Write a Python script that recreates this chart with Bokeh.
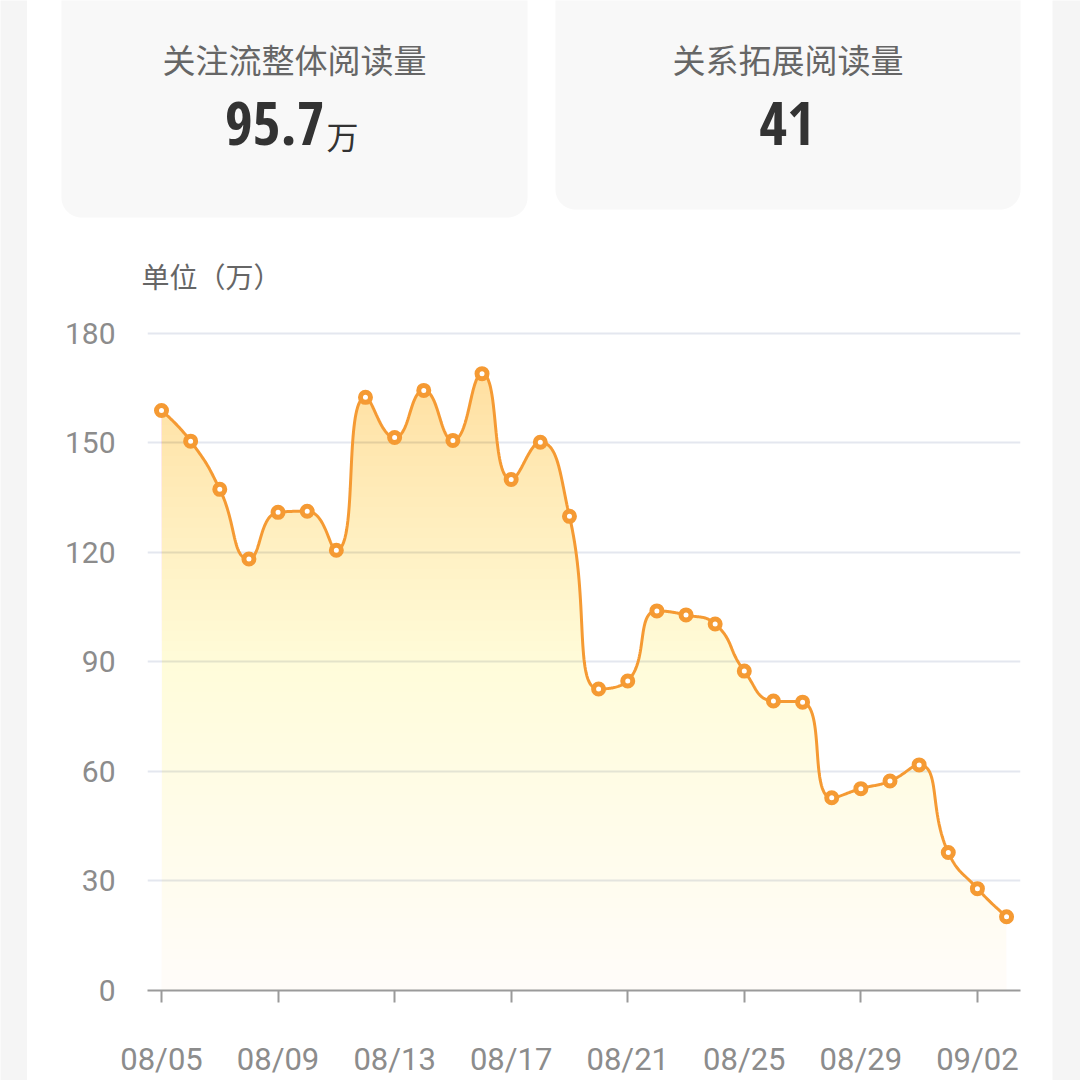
import numpy as np
from bokeh.plotting import figure
from bokeh.layouts import row, column
from bokeh.models import Range1d, FixedTicker
from bokeh.core.properties import value
from bokeh.embed import file_html
from bokeh.resources import INLINE

# ---------------- data ----------------
dates = ["08/05", "08/06", "08/07", "08/08", "08/09", "08/10", "08/11", "08/12",
         "08/13", "08/14", "08/15", "08/16", "08/17", "08/18", "08/19", "08/20",
         "08/21", "08/22", "08/23", "08/24", "08/25", "08/26", "08/27", "08/28",
         "08/29", "08/30", "08/31", "09/01", "09/02", "09/03"]
reads = [158.9, 150.5, 137.3, 118.2, 131.0, 131.3, 120.6, 162.5,
         151.5, 164.4, 150.7, 169.0, 140.0, 150.2, 129.9, 82.6,
         84.8, 104.0, 102.9, 100.4, 87.5, 79.3, 79.0, 52.8,
         55.3, 57.4, 61.8, 37.8, 27.9, 20.2]
y_ticks = [0, 30, 60, 90, 120, 150, 180]
x_tick_step = 4
card_titles = ["关注流整体阅读量", "关系拓展阅读量"]
card_values = ["95.7", "41"]
card_units = ["万", ""]
unit_label = "单位（万）"

# ---------------- style / layout constants (pixels) ----------------
GREY_BG = "#f5f5f5"
CARD_BG = "#f8f8f8"
ORANGE = "#f59a33"
FILL_C = "#f59438"
TITLE_C = "#666666"
NUM_C = "#333333"
AXIS_TXT = "#8c8c8c"
GRID_C = "#e4e7ef"
AXIS_C = "#9a9a9a"

MAIN_L, MAIN_R = 27, 1052
H_TOP = 300
H_TOTAL = 1080
W_MAIN = MAIN_R - MAIN_L
H_CHART = H_TOTAL - H_TOP
FRAME_L, FRAME_R, FRAME_T, FRAME_B = 147, 1020, 318, 991
X0_PX = 161
PX_DAY = 29.14
PX_UNIT = 658 / 180.0

# ---------------- smoothing (echarts-like) ----------------
def smooth_path(xs, ys, sx, sy, smooth=0.5, n=40):
    P = np.column_stack([np.asarray(xs, float) * sx, np.asarray(ys, float) * sy])
    m = len(P)
    segs = []
    cp0 = P[0].copy()
    t = np.linspace(0, 1, n)[:, None]
    for i in range(1, m):
        x, y = P[i]
        px, py = P[i - 1]
        if i == m - 1:
            cp1 = P[i].copy()
            ncp0 = None
        else:
            nx, ny = P[i + 1]
            vx, vy = nx - px, ny - py
            lp = np.hypot(x - px, y - py)
            ln = np.hypot(nx - x, ny - y)
            r = ln / (ln + lp)
            ncx = x + vx * smooth * r
            ncy = y + vy * smooth * r
            ncx = min(ncx, max(nx, x)); ncy = min(ncy, max(ny, y))
            ncx = max(ncx, min(nx, x)); ncy = max(ncy, min(ny, y))
            vx, vy = ncx - x, ncy - y
            c1x = x - vx * lp / ln
            c1y = y - vy * lp / ln
            c1x = min(c1x, max(px, x)); c1y = min(c1y, max(py, y))
            c1x = max(c1x, min(px, x)); c1y = max(c1y, min(py, y))
            vx, vy = x - c1x, y - c1y
            ncx = x + vx * ln / lp
            ncy = y + vy * ln / lp
            cp1 = np.array([c1x, c1y])
            ncp0 = np.array([ncx, ncy])
        B = ((1 - t) ** 3) * P[i - 1] + 3 * ((1 - t) ** 2) * t * cp0 \
            + 3 * (1 - t) * (t ** 2) * cp1 + (t ** 3) * P[i]
        segs.append(B if i == 1 else B[1:])
        cp0 = ncp0
    out = np.vstack(segs)
    return out[:, 0] / sx, out[:, 1] / sy


def rounded_rect(x0, x1, y0, y1, r, n=16):
    xs, ys = [], []
    for (cx, cy, a0) in [(x1 - r, y1 - r, 0), (x0 + r, y1 - r, 90),
                         (x0 + r, y0 + r, 180), (x1 - r, y0 + r, 270)]:
        a = np.radians(np.linspace(a0, a0 + 90, n))
        xs.extend(cx + r * np.cos(a))
        ys.extend(cy + r * np.sin(a))
    return xs, ys


# ---------------- top figure (cards), page pixel coordinates ----------------
top = figure(width=W_MAIN, height=H_TOP, x_range=Range1d(MAIN_L, MAIN_R),
             y_range=Range1d(H_TOP, 0), output_backend="svg", toolbar_location=None,
             x_axis_type=None, y_axis_type=None, min_border=0, outline_line_color=None,
             background_fill_color="white", border_fill_color="white", frame_align=False)
top.xgrid.visible = False
top.ygrid.visible = False

cards = [(61, 527, -40, 217), (555, 1020, -40, 209)]
for (cx0, cx1, cy0, cy1) in cards:
    rx, ry = rounded_rect(cx0, cx1, cy0, cy1, 20)
    top.patch(rx, ry, fill_color=CARD_BG, line_color=None)

cjk = value("Noto Sans CJK SC")
numf = value("Open Sans Condensed, DejaVu Sans Condensed, sans-serif")
centers = [(c[0] + c[1]) / 2 for c in cards]

top.text(x=centers, y=[58, 58], text=card_titles, text_font=cjk, text_font_size="33px",
         text_color=TITLE_C, text_align="center", text_baseline="middle")
top.text(x=[centers[0] + 30], y=[123], text=[card_values[0]], text_font=numf,
         text_font_style="bold", text_font_size="60px", text_color=NUM_C,
         text_align="right", text_baseline="middle")
top.text(x=[centers[0] + 32], y=[134], text=[card_units[0]], text_font=cjk,
         text_font_size="32px", text_color=NUM_C, text_align="left", text_baseline="middle")
top.text(x=[centers[1] - 1], y=[123], text=[card_values[1]], text_font=numf,
         text_font_style="bold", text_font_size="60px", text_color=NUM_C,
         text_align="center", text_baseline="middle")
top.text(x=[141], y=[275], text=[unit_label], text_font=cjk, text_font_size="28px",
         text_color=TITLE_C, text_align="left", text_baseline="middle")

# ---------------- chart figure ----------------
def dx(px):
    return (px - X0_PX) / PX_DAY


def dy(py):
    return (FRAME_B - py) / PX_UNIT


chart = figure(width=W_MAIN, height=H_CHART,
               x_range=Range1d(dx(FRAME_L), dx(FRAME_R)),
               y_range=Range1d(0, dy(FRAME_T)),
               output_backend="svg", toolbar_location=None,
               min_border_left=FRAME_L - MAIN_L, min_border_right=MAIN_R - FRAME_R,
               min_border_top=FRAME_T - H_TOP, min_border_bottom=H_TOTAL - FRAME_B,
               background_fill_color="white", border_fill_color="white",
               outline_line_color=None, frame_align=False)

idx = list(range(len(dates)))

chart.yaxis.ticker = FixedTicker(ticks=y_ticks)
chart.yaxis.axis_line_color = None
chart.yaxis.major_tick_line_color = None
chart.yaxis.minor_tick_line_color = None
chart.yaxis.major_tick_out = 0
chart.yaxis.major_tick_in = 0
chart.yaxis.major_label_standoff = 32
chart.yaxis.major_label_text_font = "Roboto"
chart.yaxis.major_label_text_font_size = "30px"
chart.yaxis.major_label_text_color = AXIS_TXT

xt = idx[::x_tick_step]
chart.xaxis.ticker = FixedTicker(ticks=xt)
chart.xaxis.major_label_overrides = {i: dates[i] for i in xt}
chart.xaxis.axis_line_color = AXIS_C
chart.xaxis.axis_line_width = 2
chart.xaxis.major_tick_line_color = AXIS_C
chart.xaxis.major_tick_line_width = 2
chart.xaxis.major_tick_out = 12
chart.xaxis.major_tick_in = 0
chart.xaxis.minor_tick_line_color = None
chart.xaxis.major_label_standoff = 38
chart.xaxis.major_label_text_font = "Roboto"
chart.xaxis.major_label_text_font_size = "31px"
chart.xaxis.major_label_text_color = AXIS_TXT

chart.xgrid.grid_line_color = None
chart.ygrid.ticker = FixedTicker(ticks=y_ticks)
chart.ygrid.grid_line_color = GRID_C
chart.ygrid.grid_line_width = 2

cx, cy = smooth_path(idx, reads, PX_DAY, PX_UNIT)

ymax = max(reads)
n_layers = 60
step = ymax / n_layers
prevA = 0.0
for k in range(n_layers):
    yk = k * step
    A = 0.03 + 0.29 * (yk + step / 2) / ymax
    a = 1 - (1 - A) / (1 - prevA)
    prevA = A
    chart.varea(x=cx, y1=np.full_like(cy, yk), y2=np.maximum(cy, yk),
                fill_color=FILL_C, fill_alpha=a)

chart.line(cx, cy, line_color=ORANGE, line_width=3)
chart.scatter(idx, reads, size=10, line_width=5, line_color=ORANGE, fill_color="white")


# ---------------- side strips ----------------
def strip(w):
    s = figure(width=w, height=H_TOTAL, output_backend="svg", toolbar_location=None,
               x_axis_type=None, y_axis_type=None, min_border=0, outline_line_color=None,
               background_fill_color=GREY_BG, border_fill_color=GREY_BG,
               x_range=Range1d(0, 1), y_range=Range1d(0, 1), frame_align=False)
    s.xgrid.visible = False
    s.ygrid.visible = False
    return s


layout = row(strip(MAIN_L), column(top, chart, spacing=0), strip(1080 - MAIN_R), spacing=0)

open("out.html", "w").write(file_html(layout, INLINE))
